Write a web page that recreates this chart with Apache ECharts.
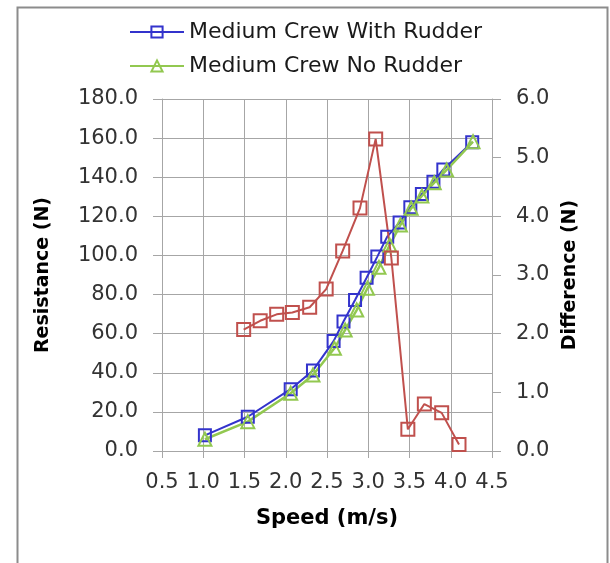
<!DOCTYPE html>
<html>
<head>
<meta charset="utf-8">
<script src="https://cdn.jsdelivr.net/npm/echarts@6/dist/echarts.min.js"></script>
<style>html,body{margin:0;padding:0;background:#fff;}#c{width:610px;height:563px;}</style>
</head>
<body>
<div id="c"></div>
<script>
var xTicks = [0.5, 4.5, 0.5];           // min, max, interval
var speedWith = [1.02,1.54,2.06,2.33,2.58,2.70,2.84,2.98,3.11,3.23,3.38,3.51,3.65,3.79,3.91,4.26];
var resWith   = [8.0,17.5,31.6,41.2,56.2,66.2,77.2,88.6,99.4,109.6,116.9,124.6,131.4,137.7,144.0,157.9];
var speedNo   = [1.02,1.54,2.06,2.33,2.59,2.72,2.86,2.99,3.13,3.26,3.39,3.52,3.65,3.80,3.95,4.27];
var resNo     = [6.0,15.0,29.5,38.9,52.5,61.9,72.1,83.2,93.9,105.3,115.6,124.1,130.4,137.2,143.7,158.2];
var speedDiff = [1.49,1.69,1.89,2.08,2.29,2.49,2.69,2.90,3.09,3.28,3.48,3.68,3.89,4.10];
var diffVals  = [2.07,2.22,2.33,2.36,2.45,2.76,3.41,4.14,5.32,3.29,0.37,0.80,0.65,0.11];
var seriesNames = ['Medium Crew With Rudder','Medium Crew No Rudder','Difference'];

function pairs(xs, ys){ return xs.map(function(x,i){ return [x, ys[i]]; }); }

var FONT = 'DejaVu Sans';
var GRID = '#a6a6a6';
var BLUE = '#3333cc', GREEN = '#92c850', RED = '#c0504d';

var chart = echarts.init(document.getElementById('c'), null, {renderer:'canvas'});
chart.setOption({
  animation: false,
  backgroundColor: '#fff',
  graphic: [{
    type: 'rect', left: 15, top: 5, shape: {width: 590, height: 580},
    style: {fill: 'none', stroke: '#8c8c8c', lineWidth: 2}, silent: true
  }],
  legend: {
    orient: 'vertical', left: 129, top: 21, padding: 0, itemWidth: 54, itemHeight: 14, itemGap: 12,
    data: [seriesNames[0], seriesNames[1]],
    textStyle: {fontFamily: FONT, fontSize: 22, color: '#1a1a1a'}
  },
  grid: {left: 162, right: 118, top: 99, height: 352},
  xAxis: {
    type: 'value', min: xTicks[0], max: xTicks[1], interval: xTicks[2],
    name: 'Speed (m/s)', nameLocation: 'middle', nameGap: 57,
    nameTextStyle: {fontFamily: FONT, fontSize: 21, fontWeight: 'bold', color: '#000'},
    axisLine: {show: true, lineStyle: {color: GRID, width: 1}},
    axisTick: {show: true, length: 7, lineStyle: {color: GRID}},
    axisLabel: {margin: 21, fontFamily: FONT, fontSize: 21, color: '#333',
      formatter: function(v){ return v.toFixed(1); }},
    splitLine: {show: true, lineStyle: {color: GRID, width: 1}}
  },
  yAxis: [{
    type: 'value', min: 0, max: 180, interval: 20, position: 'left',
    name: 'Resistance (N)', nameLocation: 'middle', nameGap: 109,
    nameTextStyle: {fontFamily: FONT, fontSize: 19, fontWeight: 'bold', color: '#000'},
    axisLine: {show: true, lineStyle: {color: GRID, width: 1}},
    axisTick: {show: true, length: 9, lineStyle: {color: GRID}},
    axisLabel: {margin: 24, fontFamily: FONT, fontSize: 21, color: '#333',
      formatter: function(v){ return v.toFixed(1); }},
    splitLine: {show: true, lineStyle: {color: GRID, width: 1}}
  }, {
    type: 'value', min: 0, max: 6, interval: 1, position: 'right',
    name: 'Difference (N)', nameLocation: 'middle', nameGap: 69,
    nameTextStyle: {fontFamily: FONT, fontSize: 19, fontWeight: 'bold', color: '#000'},
    axisLine: {show: true, lineStyle: {color: GRID, width: 1}},
    axisTick: {show: true, length: 9, lineStyle: {color: GRID}},
    axisLabel: {margin: 24, fontFamily: FONT, fontSize: 21, color: '#333',
      formatter: function(v){ return v.toFixed(1); }},
    splitLine: {show: false}
  }],
  series: [{
    name: seriesNames[0], type: 'line', yAxisIndex: 0, data: pairs(speedWith, resWith),
    symbol: 'rect', symbolSize: 12,
    lineStyle: {color: BLUE, width: 2},
    itemStyle: {color: 'rgba(255,255,255,0)', borderColor: BLUE, borderWidth: 2}
  }, {
    name: seriesNames[1], type: 'line', yAxisIndex: 0, data: pairs(speedNo, resNo),
    symbol: 'triangle', symbolSize: 13,
    lineStyle: {color: GREEN, width: 2.5},
    itemStyle: {color: 'rgba(255,255,255,0)', borderColor: GREEN, borderWidth: 2}
  }, {
    name: seriesNames[2], type: 'line', yAxisIndex: 1, data: pairs(speedDiff, diffVals),
    symbol: 'rect', symbolSize: 13,
    lineStyle: {color: RED, width: 2},
    itemStyle: {color: 'rgba(255,255,255,0)', borderColor: RED, borderWidth: 2}
  }]
});
</script>
</body>
</html>
